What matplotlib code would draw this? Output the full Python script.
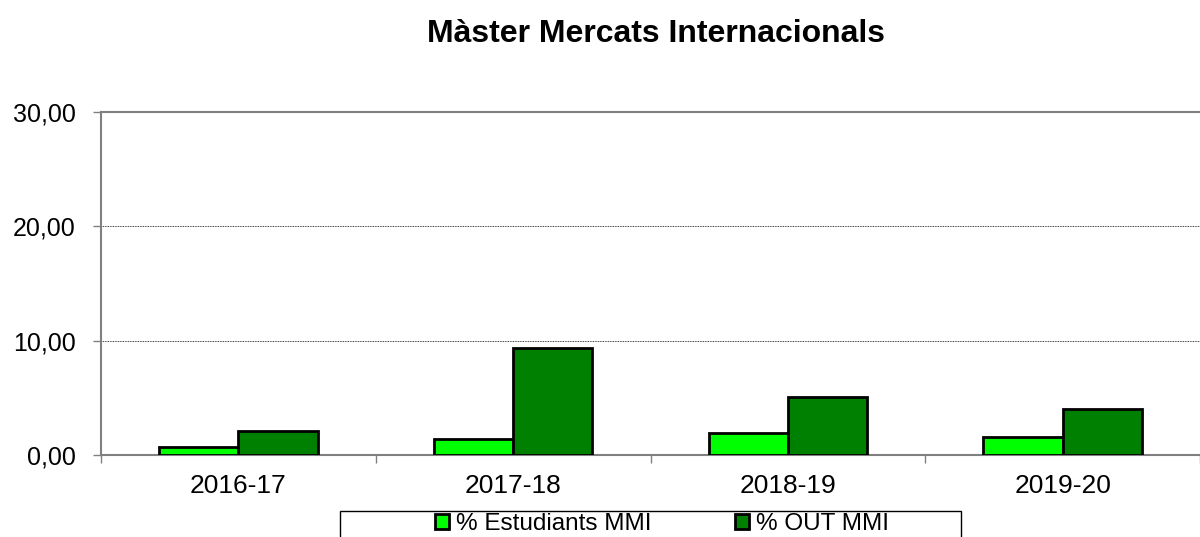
import matplotlib
matplotlib.use("Agg")
import matplotlib.pyplot as plt
import numpy as np
from matplotlib.patches import Rectangle
from matplotlib.ticker import FuncFormatter

plt.rcParams["font.family"] = ["Liberation Sans", "DejaVu Sans"]

years = ["2016-17", "2017-18", "2018-19", "2019-20"]
pct_estudiants = [0.67, 1.43, 1.90, 1.60]
pct_out = [2.13, 9.33, 5.10, 4.00]
series_names = ["% Estudiants MMI", "% OUT MMI"]

fig = plt.figure(figsize=(12, 5.37), dpi=100)
ax = fig.add_axes([101 / 1200, 82 / 537, 1099 / 1200, 343 / 537])

x = np.arange(len(years))
w = 0.288
ax.bar(x - w / 2, pct_estudiants, w, color="#00ff00", edgecolor="black",
       linewidth=2.0, label=series_names[0], zorder=3)
ax.bar(x + w / 2, pct_out, w, color="#008000", edgecolor="black",
       linewidth=2.0, label=series_names[1], zorder=3)

ax.set_xlim(-0.5, len(years) - 0.5)
ax.set_ylim(0, 30)
ax.set_yticks([0, 10, 20, 30])
ax.yaxis.set_major_formatter(FuncFormatter(lambda v, p: f"{v:.2f}".replace(".", ",")))
ax.tick_params(axis="y", direction="out", length=6, width=1, color="#808080",
               labelsize=18, pad=12)

# category boundaries carry the tick marks, labels sit at the centres
ax.set_xticks(np.arange(len(years) + 1) - 0.5)
ax.set_xticklabels([])
ax.set_xticks(x, minor=True)
ax.set_xticklabels(years, minor=True)
ax.tick_params(axis="x", which="major", direction="out", length=6, width=1,
               color="#808080")
ax.tick_params(axis="x", which="minor", length=0, labelsize=19, pad=14)

for s in ["left", "top", "bottom"]:
    ax.spines[s].set_color("#808080")
    ax.spines[s].set_linewidth(1.5)
ax.spines["right"].set_visible(False)

for yv in [10, 20]:
    ax.axhline(yv, color="black", linestyle=(0, (1, 1)), linewidth=0.6, zorder=1)

fig.text(656 / 1200, 1 - 34 / 537, "Màster Mercats Internacionals",
         ha="center", va="center", fontsize=23, fontweight="bold")

# legend box runs off the bottom of the image
fig.patches.append(Rectangle((340 / 1200, -0.1), 621 / 1200, 26 / 537 + 0.1,
                             transform=fig.transFigure, fill=False,
                             edgecolor="black", linewidth=1))
handles, labels = ax.get_legend_handles_labels()
fig.legend(handles, labels, loc="center", bbox_to_anchor=(662 / 1200, 13 / 537),
           ncol=2, frameon=False, fontsize=17.5, handlelength=0.6, handleheight=0.6,
           handletextpad=0.3, columnspacing=3.4, borderpad=0)

fig.savefig("out.png", dpi=100)
